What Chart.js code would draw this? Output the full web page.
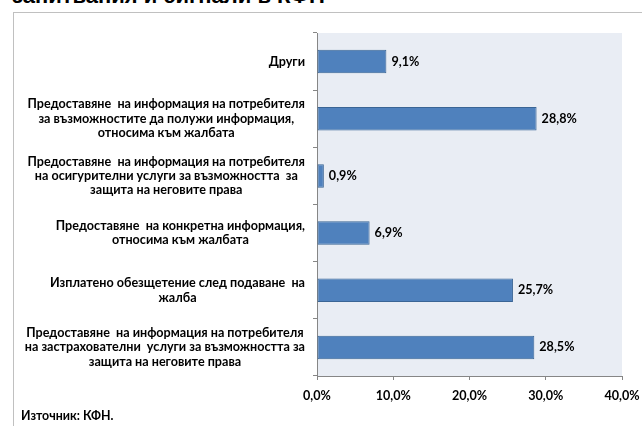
<!DOCTYPE html>
<html>
<head>
<meta charset="utf-8">
<script src="https://cdn.jsdelivr.net/npm/chart.js@4"></script>
<style>
    body { margin: 0; background: #fff; overflow: hidden; }
    #wrap { position: relative; width: 642px; height: 426px; }
    #titulo {
        position: absolute; left: 12px; top: -17px;
        font: bold 22px "Liberation Sans", Arial, sans-serif; color: #000;
        white-space: nowrap;
    }
    #moldura {
        position: absolute; left: 13px; top: 12px; width: 700px; height: 500px;
        border: 1px solid #c0c0c0;
    }
    #fonte {
        position: absolute; left: 21px; top: 408px;
        font: bold 12.4px Lato, sans-serif; color: #000;
    }
    canvas { position: absolute; left: 0; top: 0; }
</style>
</head>
<body>
<div id="wrap">
    <div id="titulo">запитвания и сигнали в КФН</div>
    <div id="moldura"></div>
    <canvas id="chart-sinais" width="642" height="426"></canvas>
    <div id="fonte">Източник: КФН.</div>
</div>
<script>
// categorias (de cima para baixo) e valores em %
const categorias = [
    ['Други'],
    ['Предоставяне  на информация на потребителя', 'за възможностите да полужи информация,', 'относима към жалбата'],
    ['Предоставяне  на информация на потребителя', 'на осигурителни услуги за възможността  за', 'защита на неговите права'],
    ['Предоставяне  на конкретна информация,', 'относима към жалбата'],
    ['Изплатено обезщетение след подаване  на', 'жалба'],
    ['Предоставяне  на информация на потребителя', 'на застрахователни  услуги за възможността за', 'защита на неговите права']
];
const valores = [9.1, 28.8, 0.9, 6.9, 25.7, 28.5];
const ticksX = [0, 10, 20, 30, 40];

const fonteRotulo = 'bold 12.6px Lato, sans-serif';

function formatar(valor) {
    return valor.toFixed(1).replace('.', ',') + '%';
}

//fundo da area do grafico
const fundoArea = {
    id: 'fundoArea',
    beforeDraw(chart) {
        const a = chart.chartArea;
        const ctx = chart.ctx;
        ctx.save();
        ctx.fillStyle = '#e9edf4';
        ctx.fillRect(a.left, a.top, a.right - a.left, a.bottom - a.top);
        ctx.restore();
    }
};

//rotulos das categorias: linhas centralizadas entre si, bloco alinhado a direita
const rotulosCategoria = {
    id: 'rotulosCategoria',
    afterDraw(chart) {
        const ctx = chart.ctx;
        const y = chart.scales.y;
        const direita = chart.chartArea.left - 12;
        const alturaLinha = 14.4;
        ctx.save();
        ctx.font = fonteRotulo;
        ctx.fillStyle = '#000';
        ctx.textAlign = 'center';
        ctx.textBaseline = 'middle';
        categorias.forEach((linhas, i) => {
            let largura = 0;
            linhas.forEach(l => { largura = Math.max(largura, ctx.measureText(l).width); });
            const cx = direita - largura / 2;
            const cy = y.getPixelForValue(i);
            const inicio = cy - (linhas.length - 1) * alturaLinha / 2;
            linhas.forEach((l, j) => ctx.fillText(l, cx, inicio + j * alturaLinha));
        });
        ctx.restore();
    }
};

//valores ao lado de cada barra
const rotulosValor = {
    id: 'rotulosValor',
    afterDatasetsDraw(chart) {
        const ctx = chart.ctx;
        const meta = chart.getDatasetMeta(0);
        ctx.save();
        ctx.font = fonteRotulo;
        ctx.fillStyle = '#000';
        ctx.textAlign = 'left';
        ctx.textBaseline = 'middle';
        meta.data.forEach((barra, i) => {
            ctx.fillText(formatar(valores[i]), barra.x + 5, barra.y);
        });
        ctx.restore();
    }
};

var ctx = document.getElementById('chart-sinais').getContext('2d');
var grafico = new Chart(ctx, {
    type: 'bar',
    data: {
        labels: categorias,
        datasets: [{
            data: valores,
            backgroundColor: '#4f81bd',
            borderColor: '#3a6595',
            borderWidth: 1,
            borderSkipped: false,
            categoryPercentage: 1,
            barPercentage: 0.41
        }]
    },
    options: {
        indexAxis: 'y',
        responsive: false,
        animation: false,
        layout: {
            padding: {left: 13, right: 20, top: 33, bottom: 20}
        },
        plugins: {
            legend: {display: false},
            tooltip: {enabled: false}
        },
        scales: {
            x: {
                min: 0,
                max: 40,
                afterBuildTicks(scale) {
                    scale.ticks = ticksX.map(v => ({value: v}));
                },
                afterFit(scale) {
                    scale.height = 30;
                    //sem folga extra para o ultimo rotulo
                    scale.paddingLeft = 0;
                    scale.paddingRight = 0;
                },
                border: {color: '#868686', width: 1},
                grid: {drawOnChartArea: false, drawTicks: true, tickLength: 4, color: '#868686'},
                ticks: {
                    font: {family: 'Lato', size: 12.6, weight: 'bold'},
                    color: '#000',
                    padding: 8,
                    maxRotation: 0,
                    callback: function (value) {
                        return formatar(value);
                    }
                }
            },
            y: {
                afterFit(scale) { scale.width = 304; },
                border: {color: '#868686', width: 1},
                grid: {drawOnChartArea: false, drawTicks: true, tickLength: 4, color: '#868686', offset: true},
                ticks: {display: false}
            }
        }
    },
    plugins: [fundoArea, rotulosCategoria, rotulosValor]
});
</script>
</body>
</html>
